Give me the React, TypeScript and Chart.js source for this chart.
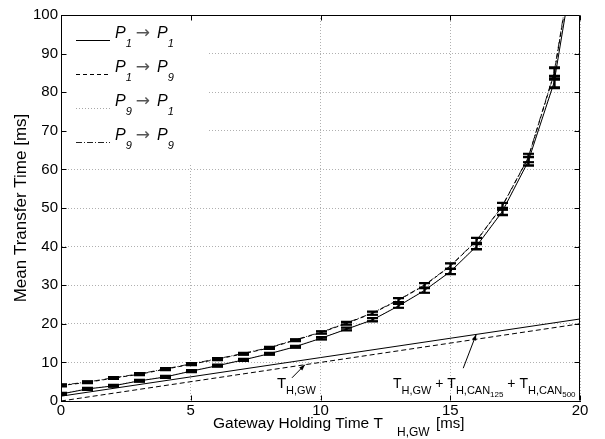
import React, { useEffect, useRef } from 'react';
import { Chart, registerables } from 'chart.js';

Chart.register(...registerables);

const FONT = '"Liberation Sans", Arial, Helvetica, sans-serif';

// Gateway holding time T_H,GW [ms]
const holdingTimes = [0, 1, 2, 3, 4, 5, 6, 7, 8, 9, 10, 11, 12, 13, 14, 15, 16, 17, 18, 19, 20];
// Mean transfer time [ms]
const meanP1toP1 = [1.8, 3.1, 3.9, 5.2, 6.2, 7.7, 9.1, 10.6, 12.2, 14.0, 16.2, 18.6, 21.0, 24.6, 28.6, 33.5, 40.0, 49.0, 62.0, 82.5, 123];
const meanP1toP9 = [4.0, 4.8, 5.9, 6.9, 8.2, 9.5, 10.8, 12.2, 13.7, 15.7, 17.7, 20.1, 22.7, 26.1, 29.9, 34.9, 41.4, 50.4, 62.9, 84.7, 125];
const meanP9toP1 = [1.9, 3.2, 4.0, 5.3, 6.3, 7.8, 9.2, 10.7, 12.3, 14.1, 16.3, 18.7, 21.1, 24.7, 28.7, 33.6, 40.2, 49.2, 62.2, 82.8, 124];
const meanP9toP9 = [4.1, 4.9, 6.0, 7.0, 8.3, 9.6, 10.9, 12.3, 13.8, 15.8, 17.8, 20.2, 22.8, 26.2, 30.0, 35.0, 41.5, 50.5, 63.0, 85.0, 126];
// confidence interval half widths [ms]
const ciHalfWidth = [0.25, 0.25, 0.25, 0.25, 0.25, 0.25, 0.25, 0.25, 0.25, 0.25, 0.3, 0.35, 0.4, 0.5, 0.6, 0.7, 0.8, 0.9, 1.1, 1.5, 2.0];
// analytic bounds
const boundX = [0, 20];
const boundGw = [0, 20];
const boundGwCan = [1.25, 21.25];
// axis ticks
const xTickValues = [0, 5, 10, 15, 20];
const yTickValues = [0, 10, 20, 30, 40, 50, 60, 70, 80, 90, 100];
// legend
const seriesNames = ['P1 → P1', 'P1 → P9', 'P9 → P1', 'P9 → P9'];
const legendSrcSub = ['1', '1', '9', '9'];
const legendDstSub = ['1', '9', '1', '9'];

const seriesValues = [meanP1toP1, meanP1toP9, meanP9toP1, meanP9toP9];
const seriesColors = ['#000000', '#000000', '#a8a8a8', '#222222'];
const seriesDashes: number[][] = [[], [4, 3], [1, 2], [6, 2, 1, 2]];

type Piece = { t: string; size: number; dy: number; italic?: boolean; family?: string };

function drawPieces(ctx: CanvasRenderingContext2D, pieces: Piece[], x: number, y: number) {
  let cx = x;
  for (const p of pieces) {
    ctx.font = `${p.italic ? 'italic ' : ''}${p.size}px ${p.family || FONT}`;
    ctx.fillText(p.t, cx, y + p.dy);
    cx += ctx.measureText(p.t).width;
  }
  return cx;
}

function arrow(ctx: CanvasRenderingContext2D, x1: number, y1: number, x2: number, y2: number) {
  ctx.beginPath();
  ctx.moveTo(x1, y1);
  ctx.lineTo(x2, y2);
  ctx.stroke();
  const ang = Math.atan2(y2 - y1, x2 - x1);
  const L = 6, W = 2.2;
  ctx.beginPath();
  ctx.moveTo(x2, y2);
  ctx.lineTo(x2 - L * Math.cos(ang) + W * Math.sin(ang), y2 - L * Math.sin(ang) - W * Math.cos(ang));
  ctx.lineTo(x2 - L * Math.cos(ang) - W * Math.sin(ang), y2 - L * Math.sin(ang) + W * Math.cos(ang));
  ctx.closePath();
  ctx.fill();
}

const decorPlugin = {
  id: 'decor',
  beforeDatasetsDraw(chart: any) {
    const { ctx, chartArea: a } = chart;
    ctx.save();
    ctx.fillStyle = '#ffffff';
    ctx.fillRect(a.left + 1, a.top + 1, 145, 148);
    ctx.restore();
  },
  afterDatasetsDraw(chart: any) {
    const { ctx, chartArea: a, scales } = chart;
    const xs = scales.x;
    const ys = scales.y;

    // error bars
    ctx.save();
    ctx.beginPath();
    ctx.rect(a.left, a.top, a.right - a.left, a.bottom - a.top);
    ctx.clip();
    ctx.strokeStyle = '#000';
    ctx.lineWidth = 1.8;
    ctx.setLineDash([]);
    seriesValues.forEach((series) => {
      series.forEach((v, i) => {
        if (v > ys.max) return;
        const px = Math.round(xs.getPixelForValue(holdingTimes[i]));
        const hi = ys.getPixelForValue(v + ciHalfWidth[i]);
        const lo = ys.getPixelForValue(v - ciHalfWidth[i]);
        ctx.beginPath();
        ctx.moveTo(px + 0.5, hi);
        ctx.lineTo(px + 0.5, lo);
        ctx.moveTo(px - 5, hi);
        ctx.lineTo(px + 6, hi);
        ctx.moveTo(px - 5, lo);
        ctx.lineTo(px + 6, lo);
        ctx.stroke();
      });
    });
    ctx.restore();

    // annotations
    ctx.save();
    ctx.fillStyle = '#000';
    ctx.strokeStyle = '#000';
    ctx.lineWidth = 1;
    ctx.textBaseline = 'alphabetic';
    ctx.textAlign = 'left';
    // T_H,GW label -> dashed line
    arrow(ctx, xs.getPixelForValue(8.9), ys.getPixelForValue(6.0), xs.getPixelForValue(9.4), ys.getPixelForValue(9.4));
    drawPieces(ctx, [
      { t: 'T', size: 15, dy: 0 },
      { t: 'H,GW', size: 11, dy: 6 },
    ], xs.getPixelForValue(8.32), ys.getPixelForValue(3.37));
    // T_H,GW + T_H,CAN125 + T_H,CAN500 -> solid line
    arrow(ctx, xs.getPixelForValue(15.5), ys.getPixelForValue(8.5), xs.getPixelForValue(16), ys.getPixelForValue(17.25));
    drawPieces(ctx, [
      { t: 'T', size: 14, dy: 0 },
      { t: 'H,GW', size: 11, dy: 6 },
      { t: ' + ', size: 14, dy: 0 },
      { t: 'T', size: 14, dy: 0 },
      { t: 'H,CAN', size: 11, dy: 6 },
      { t: '125', size: 8, dy: 9 },
      { t: ' + ', size: 14, dy: 0 },
      { t: 'T', size: 14, dy: 0 },
      { t: 'H,CAN', size: 11, dy: 6 },
      { t: '500', size: 8, dy: 9 },
    ], xs.getPixelForValue(12.79), ys.getPixelForValue(3.37));
    ctx.restore();

    // legend
    ctx.save();
    chart.data.datasets.slice(0, 4).forEach((ds: any, i: number) => {
      const base = a.top + 23 + i * 34;
      const ly = base + 2;
      ctx.strokeStyle = ds.borderColor;
      ctx.lineWidth = 1;
      ctx.setLineDash(ds.borderDash || []);
      ctx.beginPath();
      ctx.moveTo(a.left + 15, ly + 0.5);
      ctx.lineTo(a.left + 49, ly + 0.5);
      ctx.stroke();
      ctx.setLineDash([]);
      ctx.fillStyle = '#000';
      ctx.textBaseline = 'alphabetic';
      ctx.textAlign = 'left';
      let x = a.left + 54;
      x = drawPieces(ctx, [
        { t: 'P', size: 16, dy: 0, italic: true },
        { t: legendSrcSub[i], size: 11, dy: 9, italic: true },
      ], x, base);
      ctx.fillStyle = '#555';
      drawPieces(ctx, [{ t: '→', size: 17, dy: 0, family: '"DejaVu Sans", sans-serif' }], x + 4, base);
      ctx.fillStyle = '#000';
      drawPieces(ctx, [
        { t: 'P', size: 16, dy: 0, italic: true },
        { t: legendDstSub[i], size: 11, dy: 9, italic: true },
      ], a.left + 96, base);
    });
    ctx.restore();
  },
  afterDraw(chart: any) {
    const { ctx, chartArea: a, scales } = chart;
    const xs = scales.x;
    const ys = scales.y;
    ctx.save();
    ctx.strokeStyle = '#000';
    ctx.lineWidth = 1;
    ctx.setLineDash([]);
    const top = Math.round(a.top) + 0.5;
    const right = Math.round(a.right) - 0.5;
    const bottom = Math.round(a.bottom) - 0.5;
    const left = Math.round(a.left) + 0.5;
    ctx.beginPath();
    ctx.moveTo(left, top);
    ctx.lineTo(right, top);
    ctx.lineTo(right, bottom);
    ctx.stroke();
    // inward ticks
    ctx.beginPath();
    xTickValues.forEach((v) => {
      const px = Math.round(xs.getPixelForValue(v)) + 0.5;
      ctx.moveTo(px, bottom);
      ctx.lineTo(px, bottom - 5);
      ctx.moveTo(px, top);
      ctx.lineTo(px, top + 5);
    });
    yTickValues.forEach((v) => {
      const py = Math.round(ys.getPixelForValue(v)) + 0.5;
      ctx.moveTo(left, py);
      ctx.lineTo(left + 5, py);
      ctx.moveTo(right, py);
      ctx.lineTo(right - 5, py);
    });
    ctx.stroke();

    // axis titles
    ctx.fillStyle = '#000';
    ctx.textBaseline = 'alphabetic';
    ctx.textAlign = 'left';
    ctx.font = `15.5px ${FONT}`;
    ctx.fillText('Gateway Holding Time T', 213, 428);
    ctx.font = `12px ${FONT}`;
    ctx.fillText('H,GW', 397, 436);
    ctx.font = `15px ${FONT}`;
    ctx.fillText('[ms]', 436, 428);

    ctx.save();
    ctx.translate(26, (a.top + a.bottom) / 2);
    ctx.rotate(-Math.PI / 2);
    ctx.textAlign = 'center';
    ctx.font = `17px ${FONT}`;
    ctx.fillText('Mean Transfer Time [ms]', 0, 0);
    ctx.restore();
    ctx.restore();
  },
};

export default function App() {
  const canvasRef = useRef<HTMLCanvasElement | null>(null);

  useEffect(() => {
    if (!canvasRef.current) return;
    const datasets: any[] = seriesValues.map((vals, k) => ({
      label: seriesNames[k],
      data: holdingTimes.map((x, i) => ({ x, y: vals[i] })),
      borderColor: seriesColors[k],
      borderDash: seriesDashes[k],
      borderWidth: 1,
      pointRadius: 0,
      tension: 0,
      fill: false,
    }));
    datasets.push({
      label: 'T_H,GW',
      data: boundX.map((x, i) => ({ x, y: boundGw[i] })),
      borderColor: '#000',
      borderDash: [5, 3],
      borderWidth: 1,
      pointRadius: 0,
      fill: false,
    });
    datasets.push({
      label: 'T_H,GW + T_H,CAN125 + T_H,CAN500',
      data: boundX.map((x, i) => ({ x, y: boundGwCan[i] })),
      borderColor: '#000',
      borderWidth: 1,
      pointRadius: 0,
      fill: false,
    });

    const chart = new Chart(canvasRef.current, {
      type: 'line',
      data: { datasets },
      plugins: [decorPlugin as any],
      options: {
        animation: false,
        responsive: false,
        devicePixelRatio: 1,
        layout: { padding: { top: 15, right: 25, left: 0, bottom: 0 } },
        plugins: {
          legend: { display: false },
          tooltip: { enabled: false },
          title: { display: false },
        },
        scales: {
          x: {
            type: 'linear',
            min: 0,
            max: 20,
            afterFit: (s: any) => { s.height = 38; },
            afterBuildTicks: (s: any) => { s.ticks = xTickValues.map((v) => ({ value: v })); },
            ticks: {
              color: '#000',
              font: { family: FONT, size: 15 },
              padding: 1,
              maxRotation: 0,
              autoSkip: false,
            },
            grid: { color: '#b0b0b0', drawTicks: false, lineWidth: 1 },
            border: { color: '#000', width: 1, dash: [1, 2] },
          },
          y: {
            type: 'linear',
            min: 0,
            max: 100,
            afterFit: (s: any) => { s.width = 61; },
            afterBuildTicks: (s: any) => { s.ticks = yTickValues.map((v) => ({ value: v })); },
            ticks: {
              color: '#000',
              font: { family: FONT, size: 15 },
              padding: 3,
              autoSkip: false,
            },
            grid: { color: '#b0b0b0', drawTicks: false, lineWidth: 1 },
            border: { color: '#000', width: 1, dash: [1, 2] },
          },
        },
      } as any,
    });
    return () => chart.destroy();
  }, []);

  return (
    <div style={{ position: 'absolute', left: 0, top: 0, width: 605, height: 439, background: '#fff' }}>
      <canvas ref={canvasRef} width={605} height={439} style={{ display: 'block', width: 605, height: 439 }} />
    </div>
  );
}
